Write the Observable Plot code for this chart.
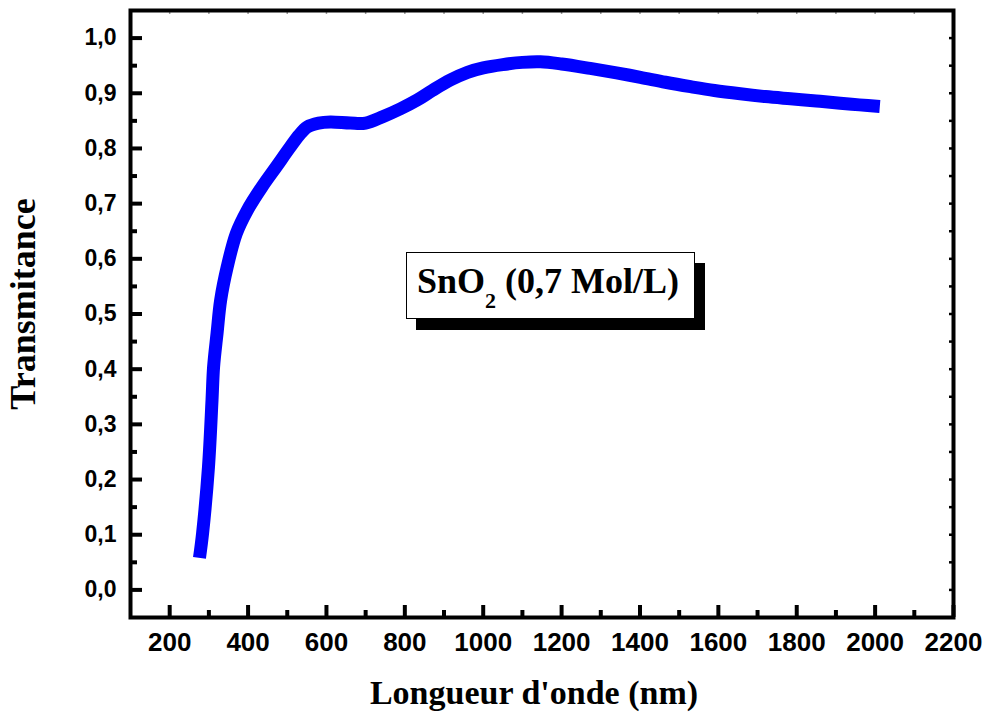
<!DOCTYPE html>
<html>
<head>
<meta charset="utf-8">
<script src="https://cdn.jsdelivr.net/npm/d3@7"></script>
<script src="https://cdn.jsdelivr.net/npm/@observablehq/plot@0.6"></script>
<style>
  html, body { margin: 0; padding: 0; background: #fff; }
  #chart { width: 983px; height: 715px; }
</style>
</head>
<body>
<div id="chart"></div>
<script>
// Optical transmittance spectrum of an SnO2 film (0,7 Mol/L)
const wavelength = [276, 284, 299, 308, 312, 321, 330, 347, 370, 398, 436, 472, 508, 530, 551, 580, 610, 661, 700, 745, 789, 832, 870, 916, 960, 1000, 1050, 1100, 1146, 1200, 1273, 1340, 1401, 1465, 1529, 1590, 1656, 1720, 1784, 1850, 1911, 1960, 2012];
const transmittance = [0.058, 0.103, 0.223, 0.344, 0.404, 0.466, 0.525, 0.586, 0.646, 0.688, 0.731, 0.767, 0.803, 0.824, 0.839, 0.846, 0.848, 0.846, 0.846, 0.858, 0.872, 0.888, 0.905, 0.924, 0.938, 0.946, 0.952, 0.956, 0.957, 0.953, 0.945, 0.937, 0.929, 0.920, 0.912, 0.905, 0.899, 0.894, 0.890, 0.886, 0.882, 0.879, 0.876];

const xTicks = [200, 400, 600, 800, 1000, 1200, 1400, 1600, 1800, 2000, 2200];
const xMinor = [300, 500, 700, 900, 1100, 1300, 1500, 1700, 1900, 2100];
const yTicks = [0, 0.1, 0.2, 0.3, 0.4, 0.5, 0.6, 0.7, 0.8, 0.9, 1.0];
const yMinor = [0.05, 0.15, 0.25, 0.35, 0.45, 0.55, 0.65, 0.75, 0.85, 0.95];
const topTicks = [200, 300, 400, 500, 600, 700, 800, 900, 1000, 1100, 1200, 1300, 1400, 1500, 1600, 1700, 1800, 1900, 2000, 2100];
const rightTicks = [0, 0.05, 0.1, 0.15, 0.2, 0.25, 0.3, 0.35, 0.4, 0.45, 0.5, 0.55, 0.6, 0.65, 0.7, 0.75, 0.8, 0.85, 0.9, 0.95, 1.0];

const xTitle = "Longueur d'onde (nm)";
const yTitle = "Transmitance";

const spectrum = wavelength.map((w, i) => ({w, t: transmittance[i]}));

const W = 983, H = 715;
const mL = 130, mR = 30, mT = 10, mB = 98;
const innerW = W - mL - mR, innerH = H - mT - mB;

const sans = "'Liberation Sans', Arial, sans-serif";
const serif = "'Liberation Serif', 'Times New Roman', serif";

const chart = Plot.plot({
  width: W,
  height: H,
  marginLeft: mL,
  marginRight: mR,
  marginTop: mT,
  marginBottom: mB,
  style: {background: "#fff", color: "#000", overflow: "visible"},
  x: {domain: [100, 2200]},
  y: {domain: [-0.05, 1.05]},
  marks: [
    Plot.line(spectrum, {x: "w", y: "t", stroke: "#0000ff", strokeWidth: 13, curve: "catmull-rom", strokeLinecap: "butt"}),
    // inward ticks, bottom and left
    Plot.ruleX(xTicks, {x: d => d, stroke: "#000", strokeWidth: 4, insetTop: innerH - 12}),
    Plot.ruleX(xMinor, {x: d => d, stroke: "#000", strokeWidth: 4, insetTop: innerH - 7}),
    Plot.ruleY(yTicks, {y: d => d, stroke: "#000", strokeWidth: 4, insetRight: innerW - 12}),
    Plot.ruleY(yMinor, {y: d => d, stroke: "#000", strokeWidth: 4, insetRight: innerW - 7}),
    // small ticks, top and right
    Plot.ruleX(topTicks, {x: d => d, stroke: "#999", strokeWidth: 1.5, insetBottom: innerH - 4}),
    Plot.ruleY(rightTicks, {y: d => d, stroke: "#000", strokeWidth: 2.5, insetLeft: innerW - 4}),
    Plot.frame({stroke: "#000", strokeWidth: 4}),
    Plot.axisX({ticks: xTicks, tickSize: 0, tickPadding: 15, label: null,
      tickFormat: d => String(d),
      fontSize: 26, fontWeight: "bold", fontFamily: sans}),
    Plot.axisY({ticks: yTicks, tickSize: 0, tickPadding: 14, label: null,
      tickFormat: d => d.toFixed(1).replace(".", ","),
      fontSize: 23, fontWeight: "bold", fontFamily: sans}),
    Plot.text([xTitle], {frameAnchor: "bottom", text: d => d, dx: -8, dy: 76,
      textAnchor: "middle", lineAnchor: "middle",
      fontSize: 34, fontWeight: "bold", fontFamily: serif}),
    Plot.text([yTitle], {frameAnchor: "left", text: d => d, dx: -107, dy: -10, rotate: -90,
      textAnchor: "middle", lineAnchor: "middle",
      fontSize: 36, fontWeight: "bold", fontFamily: serif})
  ]
});

// Sample label box with drop shadow
const svg = d3.select(chart);
const box = {x: 406, y: 252, w: 288, h: 66, off: 10};
const g = svg.append("g").attr("shape-rendering", "crispEdges");
g.append("rect").attr("x", box.x + box.off).attr("y", box.y + box.off + 1)
  .attr("width", box.w + 1).attr("height", box.h + 1).attr("fill", "#000");
g.append("rect").attr("x", box.x + 0.5).attr("y", box.y + 0.5).attr("width", box.w).attr("height", box.h)
  .attr("fill", "#fff").attr("stroke", "#000").attr("stroke-width", 1);
const label = g.append("text").attr("x", box.x + 11).attr("y", box.y + 41)
  .attr("text-anchor", "start")
  .attr("font-family", serif).attr("font-weight", "bold").attr("font-size", 36).attr("fill", "#000");
label.append("tspan").text("SnO");
label.append("tspan").attr("dy", 15).attr("font-size", 22).text("2");
label.append("tspan").attr("dy", -15).text(" (0,7 Mol/L)");

document.getElementById("chart").appendChild(chart);
</script>
</body>
</html>
